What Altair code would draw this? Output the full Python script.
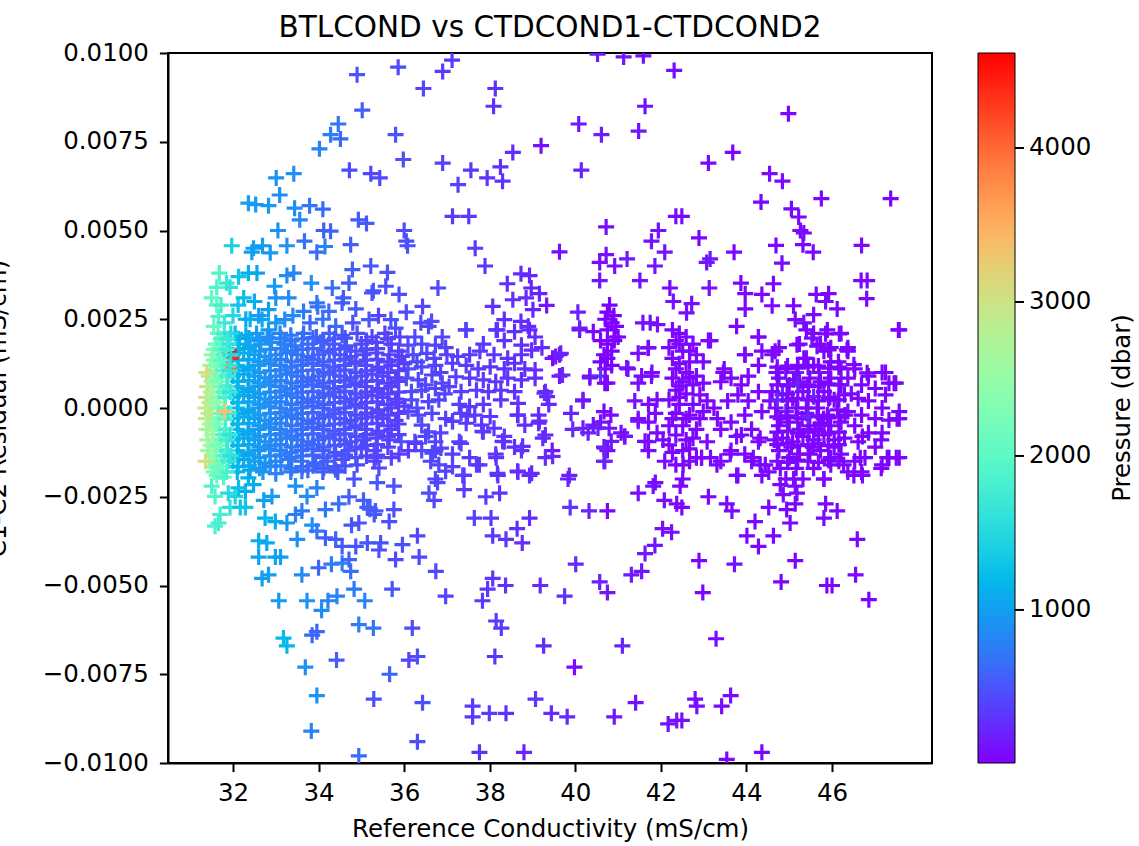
import altair as alt
import pandas as pd

# ---- data: [conductivity (mS/cm), C1-C2 residual (mS/cm), pressure (dbar)] ----
upper_outliers = [
    [34.90,0.00939,520],[35.86,0.00960,450],[36.45,0.00900,400],[35.02,0.00839,560],[34.46,0.00800,700],
    [34.28,0.00770,760],[34.51,0.00758,620],[34.02,0.00730,800],[35.80,0.00770,480],[35.98,0.00700,470],
    [34.72,0.00670,450],[35.22,0.00660,420],[35.43,0.00648,430],[33.01,0.00648,900],[33.42,0.00660,880],
    [33.09,0.00600,880],[32.36,0.00577,1000],[32.53,0.00573,950],[32.83,0.00570,950],[33.44,0.00563,880],
    [33.79,0.00570,700],[34.10,0.00560,640],[33.56,0.00530,820],[34.93,0.00530,560],[35.12,0.00520,520],
    [36.00,0.00500,450],[36.08,0.00457,500],[36.05,0.00470,450],[33.05,0.00500,900],[34.12,0.00500,560],
    [34.28,0.00498,600],[31.97,0.00457,1400],[32.48,0.00450,1000],[32.69,0.00457,980],[32.87,0.00437,950],
    [32.44,0.00439,1000],[33.26,0.00457,900],[33.67,0.00470,680],[33.96,0.00439,650],[34.15,0.00455,800],
    [34.75,0.00460,550],[34.79,0.00390,560],[35.22,0.00400,500],[35.61,0.00382,480],[31.68,0.00380,1900],
    [31.85,0.00352,1700],[31.50,0.00310,2000],[32.13,0.00370,1300],[32.36,0.00380,1150],[32.56,0.00380,1050],
    [32.50,0.00300,1100],[32.97,0.00343,950],[33.26,0.00373,850],[33.42,0.00380,820],[33.00,0.00310,900],
    [33.30,0.00310,850],[33.83,0.00352,900],[34.32,0.00338,650],[34.71,0.00352,560],[35.25,0.00324,500],
    [35.57,0.00343,470],[35.88,0.00320,450],[32.83,0.00277,1000],[31.66,0.00258,1900],[33.96,0.00296,700],
    [34.24,0.00272,650],[34.55,0.00296,560],[34.87,0.00279,530],[33.65,0.00272,750],[33.21,0.00249,850],
    [32.68,0.00249,1050],[32.83,0.00220,1000],[34.40,0.00230,620],[35.18,0.00249,500],[35.69,0.00249,480],
    [35.80,0.00225,470],[36.43,0.00286,420],[36.39,0.00240,420],[35.28,0.00330,500],[34.58,0.00310,560],
    [33.98,0.00285,700],[36.05,0.00270,430],[31.93,0.00340,1600],[31.62,0.00340,1900],[31.62,0.00290,2000],
    [31.72,0.00290,1800],[32.12,0.00290,1300],[32.40,0.00250,1150],[32.25,0.00310,1250],[32.00,0.00260,1500],
    [31.80,0.00240,1700],[31.55,0.00230,2100],[33.00,0.00240,950],[33.40,0.00260,850],[34.10,0.00250,690],
    [37.12,0.00980,330],[36.90,0.00948,350],[38.13,0.00900,300],[38.09,0.00850,300],[41.13,0.00989,120],
    [41.59,0.00992,110],[40.52,0.00997,150],[42.31,0.00951,70],[41.63,0.00850,110],[40.08,0.00800,150],
    [40.61,0.00770,170],[41.48,0.00780,120],[39.20,0.00739,80],[38.54,0.00720,250],[36.90,0.00690,380],
    [37.56,0.00670,330],[37.94,0.00648,300],[38.25,0.00679,280],[38.30,0.00639,300],[37.26,0.00629,380],
    [40.14,0.00670,200],[37.13,0.00540,350],[37.51,0.00540,330],[40.72,0.00510,80],[41.94,0.00500,90],
    [41.78,0.00470,100],[42.09,0.00439,100],[42.35,0.00540,80],[37.66,0.00450,350],[39.63,0.00440,60],
    [40.72,0.00432,80],[40.57,0.00410,60],[40.92,0.00400,80],[41.21,0.00420,150],[41.86,0.00400,120],
    [37.89,0.00400,330],[36.79,0.00338,420],[38.73,0.00378,250],[38.93,0.00373,230],[38.41,0.00350,260],
    [38.97,0.00338,220],[39.16,0.00322,200],[40.57,0.00359,120],[41.51,0.00359,120],[42.21,0.00338,60],
    [38.54,0.00305,260],[38.07,0.00286,300],[38.85,0.00310,240],[39.33,0.00289,120],[39.01,0.00277,200],
    [38.34,0.00249,280],[38.73,0.00244,250],[38.93,0.00220,230],[40.06,0.00270,200],[36.64,0.00244,450],
    [37.44,0.00220,380],[38.15,0.00220,300],[41.58,0.00240,100],[41.75,0.00240,90],[41.92,0.00235,80],
    [42.29,0.00300,80],[40.10,0.00225,160],
    [40.80,0.00290,20],[40.75,0.00270,20],[40.90,0.00260,20],[40.70,0.00250,20],[40.85,0.00240,20],
    [40.95,0.00230,20],[41.00,0.00200,20],
    [44.98,0.00829,40],[43.68,0.00720,30],[43.11,0.00690,60],[44.54,0.00660,50],[44.84,0.00639,50],
    [44.34,0.00580,40],[45.75,0.00590,30],[47.37,0.00590,30],[42.49,0.00540,60],[45.05,0.00561,60],
    [45.22,0.00538,50],[45.34,0.00493,50],[45.26,0.00500,40],[42.89,0.00479,40],[44.69,0.00458,40],
    [45.32,0.00460,40],[45.56,0.00439,50],[46.69,0.00458,40],[43.71,0.00439,40],[43.15,0.00420,150],
    [43.07,0.00410,120],[44.83,0.00408,50],[46.68,0.00359,40],[46.82,0.00359,40],[46.81,0.00308,40],
    [43.13,0.00338,100],[43.87,0.00352,40],[43.97,0.00322,40],[44.63,0.00350,40],[44.36,0.00320,40],
    [45.63,0.00320,40],[45.92,0.00322,40],[44.60,0.00288,40],[43.97,0.00279,40],[45.10,0.00288,40],
    [45.85,0.00300,60],[46.12,0.00279,40],[42.72,0.00294,80],[42.60,0.00268,80],[43.77,0.00230,40],
    [44.28,0.00200,40],[45.14,0.00249,60],[45.34,0.00240,70],[45.57,0.00263,50],[45.85,0.00209,40],
    [46.17,0.00209,40],[45.53,0.00197,80],[47.55,0.00220,30],
]

lower_outliers = [
    [31.50,-0.00220,1900],[31.58,-0.00249,1900],[31.70,-0.00300,1800],[31.58,-0.00333,1850],[31.66,-0.00324,1800],
    [31.93,-0.00280,1600],[32.05,-0.00249,1450],[32.29,-0.00280,1300],[32.75,-0.00310,1150],[32.99,-0.00320,1100],
    [32.60,-0.00374,1100],[32.79,-0.00380,1100],[32.60,-0.00420,1050],[32.99,-0.00420,1050],[33.11,-0.00420,1000],
    [32.68,-0.00480,1000],[32.83,-0.00470,1000],[33.07,-0.00543,950],[33.18,-0.00648,1200],[33.26,-0.00670,1200],
    [33.69,-0.00730,900],[33.96,-0.00810,900],[33.83,-0.00910,800],[34.94,-0.00980,650],[33.73,-0.00543,900],
    [34.07,-0.00570,850],[34.22,-0.00543,800],[34.43,-0.00530,800],[33.85,-0.00640,600],[33.96,-0.00630,600],
    [34.42,-0.00710,550],[34.94,-0.00610,750],[35.28,-0.00620,700],[34.83,-0.00510,750],[35.08,-0.00543,800],
    [35.72,-0.00510,500],[36.19,-0.00620,450],[36.11,-0.00710,400],[36.31,-0.00700,450],[35.66,-0.00750,600],
    [35.29,-0.00820,500],[36.43,-0.00830,450],[36.31,-0.00940,450],[33.61,-0.00470,850],[34.00,-0.00450,600],
    [34.30,-0.00440,750],[34.55,-0.00437,800],[34.75,-0.00460,650],[34.71,-0.00427,600],[33.50,-0.00370,900],
    [33.26,-0.00324,950],[33.46,-0.00300,750],[33.61,-0.00290,750],[33.85,-0.00330,900],[33.96,-0.00347,700],
    [34.16,-0.00366,550],[34.40,-0.00370,550],[34.55,-0.00390,550],[34.87,-0.00390,500],[35.14,-0.00380,500],
    [35.45,-0.00380,500],[35.41,-0.00400,480],[35.96,-0.00385,450],[35.80,-0.00427,450],[36.35,-0.00420,420],
    [36.31,-0.00360,420],[35.14,-0.00280,600],[35.33,-0.00290,550],[35.76,-0.00286,480],[35.65,-0.00320,470],
    [34.94,-0.00324,500],[34.77,-0.00330,500],[34.16,-0.00286,700],[34.47,-0.00270,650],[34.71,-0.00250,550],
    [34.83,-0.00200,480],[35.37,-0.00210,520],[35.76,-0.00220,500],[33.73,-0.00249,850],[33.96,-0.00225,800],
    [33.46,-0.00220,900],[32.91,-0.00249,950],[32.72,-0.00260,1000],[32.48,-0.00216,1100],[32.36,-0.00197,1150],
    [32.29,-0.00235,1150],[32.13,-0.00225,1250],[31.89,-0.00240,1500],[32.17,-0.00280,1300],[35.05,-0.00260,550],
    [35.20,-0.00285,550],[35.30,-0.00300,520],
    [36.74,-0.00460,420],[36.97,-0.00530,400],[37.64,-0.00310,380],[38.03,-0.00310,330],[38.93,-0.00310,250],
    [38.07,-0.00360,330],[38.38,-0.00370,300],[38.64,-0.00340,280],[38.76,-0.00380,260],[38.07,-0.00480,330],
    [37.95,-0.00510,330],[38.37,-0.00500,280],[37.83,-0.00543,330],[38.15,-0.00600,350],[38.27,-0.00620,330],
    [38.12,-0.00700,300],[39.18,-0.00500,250],[39.75,-0.00530,300],[40.01,-0.00440,250],[40.57,-0.00490,200],
    [40.75,-0.00520,150],[41.31,-0.00470,150],[41.55,-0.00460,120],[41.63,-0.00410,150],[41.86,-0.00387,120],
    [42.04,-0.00340,90],[42.25,-0.00350,80],[39.26,-0.00670,250],[39.98,-0.00730,40],[41.10,-0.00670,200],
    [39.07,-0.00820,300],[37.60,-0.00840,350],[37.60,-0.00870,350],[37.99,-0.00860,350],[38.38,-0.00860,280],
    [39.44,-0.00860,250],[39.81,-0.00870,250],[40.91,-0.00870,150],[41.41,-0.00830,100],[42.17,-0.00890,120],
    [42.37,-0.00880,150],[37.76,-0.00970,280],[38.80,-0.00970,200],[39.88,-0.00280,300],[40.32,-0.00290,200],
    [40.75,-0.00290,30],[41.47,-0.00240,80],[41.82,-0.00220,90],[42.08,-0.00260,60],[42.37,-0.00270,40],
    [39.83,-0.00200,200],[38.23,-0.00240,300],[37.91,-0.00250,350],[37.40,-0.00230,380],[36.78,-0.00210,420],
    [36.70,-0.00260,400],[36.58,-0.00240,450],
    [43.11,-0.00250,40],[43.54,-0.00270,50],[43.66,-0.00290,50],[44.20,-0.00320,50],[44.01,-0.00360,40],
    [44.28,-0.00390,40],[44.63,-0.00360,40],[44.52,-0.00280,40],[45.02,-0.00324,40],[44.94,-0.00286,40],
    [45.14,-0.00270,40],[45.85,-0.00270,40],[46.12,-0.00290,40],[45.81,-0.00310,50],[46.59,-0.00370,40],
    [45.14,-0.00430,30],[46.55,-0.00470,40],[45.88,-0.00500,30],[46.00,-0.00500,30],[46.86,-0.00540,20],
    [44.81,-0.00490,60],[42.89,-0.00430,40],[43.72,-0.00440,100],[42.98,-0.00520,20],[43.29,-0.00650,60],
    [42.80,-0.00820,80],[42.84,-0.00840,80],[43.42,-0.00840,60],[43.63,-0.00810,60],[42.49,-0.00880,80],
    [44.36,-0.00970,40],[43.54,-0.00990,40],[42.45,-0.00220,40],[42.49,-0.00280,30],[44.86,-0.00244,50],
    [45.18,-0.00240,50],
]

mid_band_west = [
    [37.45,0.00220,360],[38.18,0.00220,310],[38.58,0.00215,290],[38.90,0.00230,270],[36.57,0.00230,420],
    [38.34,0.00190,300],[39.06,0.00200,260],[36.89,0.00200,400],[36.41,0.00180,430],[36.09,0.00177,450],
    [36.73,0.00177,410],[36.97,0.00170,390],[37.85,0.00180,330],[38.74,0.00177,280],[39.22,0.00170,250],
    [36.21,0.00150,440],[36.53,0.00154,420],[37.25,0.00145,370],[37.53,0.00150,350],[37.77,0.00160,340],
    [38.10,0.00150,320],[38.42,0.00140,300],[38.74,0.00150,280],[38.98,0.00163,260],[39.54,0.00145,150],
    [39.66,0.00154,200],[36.09,0.00110,450],[36.41,0.00116,430],[36.73,0.00120,410],[37.13,0.00126,380],
    [37.45,0.00120,360],[37.73,0.00110,340],[38.01,0.00116,320],[38.34,0.00110,300],[38.58,0.00126,290],
    [38.82,0.00110,270],[39.06,0.00107,260],[36.05,0.00084,450],[36.33,0.00079,430],[36.65,0.00093,420],
    [36.89,0.00070,400],[37.21,0.00088,370],[37.53,0.00084,350],[37.85,0.00079,330],[38.14,0.00074,310],
    [38.42,0.00084,300],[38.74,0.00079,280],[39.06,0.00084,260],[39.70,0.00093,220],[36.17,0.00046,450],
    [36.41,0.00050,430],[36.73,0.00055,410],[37.05,0.00060,390],[37.33,0.00046,370],[37.69,0.00050,340],
    [37.97,0.00046,330],[38.26,0.00050,310],[38.58,0.00046,290],[39.30,0.00046,250],[36.17,0.00023,450],
    [36.57,0.00018,420],[36.81,0.00023,400],[37.29,0.00010,370],[37.53,0.00004,350],[37.85,0.00010,330],
    [38.26,0.00023,310],[38.66,0.00013,280],[39.34,0.00032,250],[39.38,0.00010,250],[36.09,-0.00010,450],
    [36.33,-0.00020,430],[36.65,-0.00015,420],[36.97,-0.00030,390],[37.33,-0.00015,370],[37.65,-0.00020,340],
    [38.01,-0.00024,320],[38.66,-0.00020,280],[39.14,-0.00020,250],[36.41,-0.00048,430],[37.13,-0.00038,380],
    [37.45,-0.00043,360],[37.81,-0.00048,340],[38.10,-0.00057,320],[38.82,-0.00048,270],[39.14,-0.00043,250],
    [36.57,-0.00067,420],[37.85,-0.00067,330],[38.34,-0.00080,300],[39.30,-0.00076,250],[35.93,-0.00095,460],
    [36.25,-0.00095,440],[36.73,-0.00095,410],[37.29,-0.00095,370],[38.34,-0.00095,300],[38.58,-0.00110,290],
    [36.41,-0.00120,430],[36.73,-0.00120,410],[37.13,-0.00130,380],[37.53,-0.00140,350],[38.14,-0.00130,310],
    [38.74,-0.00120,280],[39.46,-0.00120,100],[36.81,-0.00160,400],[37.13,-0.00165,380],[37.69,-0.00160,340],
    [38.18,-0.00184,310],[38.66,-0.00180,280],[38.98,-0.00184,260],[36.73,-0.00200,410],[37.37,-0.00190,370],
    [39.30,-0.00140,250],[39.86,-0.00190,200],[38.93,-0.00190,250],[38.65,-0.00178,260],[38.19,-0.00190,300],
    [37.40,-0.00190,380],[36.97,-0.00178,400],[37.76,-0.00160,340],[38.15,-0.00140,310],[37.33,-0.00100,370],
    [36.86,-0.00113,400],[38.30,-0.00094,300],[38.77,-0.00108,280],[39.47,-0.00136,240],[39.24,-0.00085,250],
    [39.16,-0.00037,250],[38.65,-0.00020,280],[37.83,-0.00066,330],[37.13,-0.00037,380],[37.48,-0.00023,360],
    [36.62,-0.00150,420],[36.66,-0.00127,420],
    [36.25,0.00200,440],[36.70,0.00140,410],[36.30,0.00130,435],[36.85,0.00100,400],[36.50,0.00065,425],
    [36.95,0.00040,395],[36.30,0.00000,435],[36.85,-0.00070,400],[36.50,-0.00080,425],[37.00,0.00150,390],
]

mid_band_central = [
    [40.10,0.00220,80],[40.42,0.00215,30],[40.75,0.00220,20],[40.91,0.00200,20],[40.59,0.00190,20],
    [40.75,0.00180,20],[40.91,0.00190,20],[40.67,0.00150,20],[40.59,0.00130,20],[40.75,0.00140,20],
    [40.85,0.00160,20],[40.70,0.00110,20],[40.85,0.00120,20],[41.23,0.00110,100],[40.34,0.00090,80],
    [40.59,0.00090,300],[40.75,0.00070,40],[41.47,0.00154,80],[41.71,0.00170,60],[41.55,0.00090,80],
    [41.47,0.00070,80],[41.79,0.00100,60],[41.39,0.00020,80],[41.71,0.00010,60],[41.91,0.00023,50],
    [41.87,-0.00015,50],[40.18,0.00020,120],[40.67,-0.00010,40],[40.83,-0.00020,40],[39.90,-0.00015,200],
    [40.18,-0.00057,150],[40.42,-0.00048,120],[40.59,-0.00040,100],[40.79,-0.00057,100],[41.07,-0.00070,80],
    [41.15,-0.00080,80],[41.47,-0.00030,80],[41.71,-0.00040,60],[41.71,-0.00095,60],[40.67,-0.00110,100],
    [40.75,-0.00120,80],[40.67,-0.00150,80],[41.71,-0.00120,60],[41.91,-0.00070,50],[39.94,-0.00060,250],
    [40.30,-0.00070,200],[40.53,-0.00056,180],[40.69,-0.00113,200],[40.84,-0.00094,150],[41.16,-0.00080,100],
    [41.47,-0.00037,80],[41.63,-0.00094,80],[42.09,-0.00150,60],[42.05,-0.00090,60],[40.69,-0.00150,220],
    [39.63,0.00150,60],[39.47,0.00140,60],[41.20,0.00113,100],[41.70,0.00169,80],[40.34,0.00085,120],
    [40.69,0.00070,40],[39.63,0.00090,150],[41.78,0.00090,60],[39.28,0.00042,250],[40.18,0.00023,150],
]

east_cluster = [
    [42.27,0.00220,40],[42.43,0.00210,40],[42.35,0.00190,30],[42.59,0.00200,40],[42.75,0.00180,40],
    [42.19,0.00170,40],[42.51,0.00160,30],[42.83,0.00150,40],[42.27,0.00140,30],[42.67,0.00130,40],
    [42.99,0.00130,40],[42.35,0.00110,30],[42.59,0.00100,40],[42.83,0.00090,40],[42.27,0.00084,30],
    [42.51,0.00074,40],[42.75,0.00065,40],[42.99,0.00070,40],[42.35,0.00050,30],[42.59,0.00040,40],
    [42.91,0.00037,40],[42.19,0.00023,30],[42.43,0.00010,40],[42.75,0.00010,50],[43.08,0.00020,40],
    [42.35,-0.00015,30],[42.67,-0.00020,40],[42.99,-0.00010,40],[43.24,0.00000,40],[42.19,-0.00050,30],
    [42.51,-0.00050,40],[42.83,-0.00060,40],[42.35,-0.00076,30],[42.75,-0.00085,40],[43.08,-0.00095,40],
    [42.19,-0.00104,30],[42.51,-0.00120,40],[42.83,-0.00140,40],[43.16,-0.00140,40],[42.35,-0.00160,30],
    [42.67,-0.00150,40],[42.51,-0.00200,40],[41.87,-0.00210,50],[42.52,-0.00160,40],[42.95,-0.00140,40],
    [43.16,0.00190,40],[43.48,0.00110,40],[43.40,0.00074,40],[43.64,0.00084,40],[43.88,0.00065,40],
    [44.04,0.00090,40],[44.28,0.00120,40],[43.96,0.00150,40],[44.36,0.00160,40],[44.28,0.00200,40],
    [43.80,0.00037,40],[44.04,0.00020,40],[43.56,0.00020,40],[44.28,0.00046,40],[44.36,-0.00010,40],
    [43.96,-0.00020,40],[43.64,-0.00040,40],[43.40,-0.00060,40],[43.32,-0.00030,40],[43.88,-0.00076,40],
    [44.28,-0.00095,40],[44.12,-0.00060,40],[43.64,-0.00120,40],[43.96,-0.00130,40],[44.12,-0.00150,40],
    [43.80,-0.00190,40],[43.40,-0.00150,40],[44.44,-0.00160,40],[44.36,-0.00190,40],[43.31,-0.00160,60],
    [43.62,-0.00130,60],[43.77,-0.00080,50],[44.32,-0.00085,50],[44.16,-0.00140,40],[44.32,-0.00160,40],
    [44.60,0.00150,40],[44.76,0.00170,40],[44.92,0.00110,40],[45.16,0.00100,200],[45.40,0.00140,40],
    [45.57,0.00120,40],[45.81,0.00160,40],[45.97,0.00130,40],[46.21,0.00110,40],[46.37,0.00160,40],
    [44.76,0.00084,40],[45.00,0.00065,150],[45.24,0.00074,40],[45.48,0.00084,40],[45.73,0.00074,40],
    [45.97,0.00084,40],[46.21,0.00065,40],[46.37,0.00084,40],[44.60,0.00046,40],[44.84,0.00037,250],
    [45.08,0.00027,40],[45.32,0.00046,40],[45.57,0.00032,200],[45.81,0.00046,40],[46.05,0.00023,40],
    [46.29,0.00037,40],[44.68,0.00000,40],[44.92,-0.00010,200],[45.16,0.00000,40],[45.40,-0.00015,40],
    [45.65,0.00000,40],[45.89,-0.00020,40],[46.13,-0.00005,40],[46.37,-0.00010,40],[44.76,-0.00050,40],
    [45.00,-0.00040,40],[45.24,-0.00060,150],[45.48,-0.00050,40],[45.73,-0.00043,40],[45.97,-0.00050,40],
    [46.21,-0.00040,40],[44.84,-0.00085,40],[45.08,-0.00095,40],[45.32,-0.00080,40],[45.57,-0.00090,40],
    [45.81,-0.00076,40],[46.05,-0.00090,40],[46.29,-0.00085,40],[44.76,-0.00120,40],[45.00,-0.00140,40],
    [45.24,-0.00130,40],[45.48,-0.00130,40],[45.73,-0.00120,40],[45.97,-0.00140,40],[46.21,-0.00130,40],
    [45.16,-0.00170,40],[45.57,-0.00170,40],[45.97,-0.00160,40],[44.92,-0.00200,40],[45.32,-0.00200,40],
    [45.81,-0.00200,40],[46.37,-0.00180,40],[46.53,-0.00150,40],[46.69,-0.00180,40],[45.40,0.00220,40],
    [45.57,0.00210,40],[45.89,0.00220,40],[46.21,0.00210,40],[45.24,0.00180,40],[45.73,0.00180,40],
    [45.97,0.00170,40],[46.37,0.00170,40],[47.57,0.00220,30],[46.53,0.00110,30],[46.85,0.00090,30],
    [47.17,0.00100,30],[47.33,0.00070,30],[47.49,0.00070,30],[46.69,0.00065,30],[47.01,0.00055,30],
    [47.25,0.00037,30],[46.61,0.00027,30],[46.85,0.00020,30],[47.17,0.00000,30],[47.57,-0.00010,30],
    [46.69,-0.00020,30],[47.01,-0.00030,30],[47.33,-0.00034,30],[47.57,-0.00030,30],[46.53,-0.00050,30],
    [46.85,-0.00070,30],[47.17,-0.00070,30],[46.61,-0.00095,30],[47.01,-0.00110,30],[46.77,-0.00140,30],
    [47.33,-0.00140,30],[47.57,-0.00140,30],[47.17,-0.00160,30],[44.70,0.00100,40],[44.95,0.00040,40],
    [45.20,0.00120,40],[45.45,0.00060,40],[45.70,0.00100,40],[45.95,0.00030,40],[46.15,0.00130,40],
    [44.80,-0.00030,40],[45.05,-0.00110,40],[45.30,-0.00030,40],[45.55,-0.00110,40],[45.80,-0.00030,40],
    [46.05,-0.00110,40],[46.30,-0.00020,40],[44.65,-0.00090,40],[45.40,0.00000,40],[45.60,-0.00060,40],
    [45.10,0.00080,40],[44.55,0.00020,40],[46.45,0.00040,40],[45.81,-0.00200,40],[46.51,-0.00190,40],
    [46.71,-0.00190,40],[47.15,-0.00170,30],[47.50,-0.00140,30],[47.29,-0.00140,30],[43.77,-0.00190,70],
    [44.52,-0.00180,50],[44.79,-0.00170,50],[45.10,-0.00200,60],[44.79,-0.00216,50],[45.14,-0.00220,50],
    [46.27,-0.00160,40],[46.66,-0.00140,40],[42.95,-0.00140,40],[46.71,-0.00080,30],[47.15,-0.00090,30],
    [47.52,-0.00030,30],[43.46,0.00100,40],[43.11,0.00190,60],[43.97,0.00150,40],[44.67,0.00160,40],
    [45.34,0.00140,40],[45.92,0.00164,40],[46.51,0.00122,40],[46.82,0.00099,40],[47.25,0.00100,30],
    [47.45,0.00070,30],[45.18,0.00178,40],[45.65,0.00174,40],[46.35,0.00164,40],
]

east_cluster_dense = [
    [44.72,0.00115,40],[44.96,0.00118,40],[45.20,0.00112,40],[45.44,0.00115,40],[45.68,0.00118,40],[45.92,0.00112,40],[46.16,0.00115,40],
    [44.72,0.00065,40],[44.96,0.00062,40],[45.20,0.00068,180],[45.44,0.00065,40],[45.68,0.00062,40],[45.92,0.00068,40],[46.16,0.00065,40],
    [44.72,0.00023,200],[44.96,0.00020,40],[45.20,0.00026,40],[45.44,0.00023,40],[45.68,0.00020,40],[45.92,0.00026,40],[46.16,0.00023,40],
    [44.72,-0.00025,40],[44.96,-0.00022,40],[45.20,-0.00028,40],[45.44,-0.00025,220],[45.68,-0.00022,40],[45.92,-0.00028,40],[46.16,-0.00025,40],
    [44.72,-0.00068,40],[44.96,-0.00065,40],[45.20,-0.00071,40],[45.44,-0.00068,40],[45.68,-0.00065,40],[45.92,-0.00071,40],[46.16,-0.00068,40],
    [44.72,-0.00103,40],[44.96,-0.00100,40],[45.20,-0.00106,40],[45.44,-0.00103,40],[45.68,-0.00100,40],[45.92,-0.00106,40],[46.16,-0.00103,40],
    [44.72,-0.00150,40],[44.96,-0.00153,40],[45.20,-0.00147,40],[45.44,-0.00150,40],[45.68,-0.00153,40],[45.92,-0.00147,40],[46.16,-0.00150,40],
    [42.43,0.00180,40],[42.43,0.00125,40],[42.67,0.00160,40],[42.43,0.00062,40],[42.67,0.00085,40],[42.43,0.00030,40],
    [42.59,-0.00030,40],[42.27,-0.00030,30],[42.59,-0.00090,40],[42.27,-0.00125,30],[42.67,-0.00115,40],[42.91,-0.00030,40],
]

blue_core = [
    [32.05,0.00210,1230],[32.30,0.00205,1080],[32.55,0.00210,980],[32.80,0.00200,880],[33.10,0.00210,790],
    [33.35,0.00205,730],[33.65,0.00210,650],[33.95,0.00200,590],[34.25,0.00210,540],[34.55,0.00205,495],
    [34.90,0.00210,455],[35.25,0.00200,420],[35.55,0.00210,395],[35.90,0.00200,370],
    [32.15,0.00180,1170],[32.40,0.00175,1040],[32.65,0.00180,940],[32.90,0.00185,840],[33.20,0.00180,770],
    [33.45,0.00175,700],[33.75,0.00180,630],[34.05,0.00185,570],[34.35,0.00180,525],[34.65,0.00175,485],
    [35.00,0.00180,440],[35.35,0.00185,410],[35.70,0.00180,385],
    [32.00,0.00150,1250],[32.25,0.00155,1100],[32.50,0.00150,1000],[32.75,0.00145,900],[33.00,0.00150,820],
    [33.25,0.00155,750],[33.50,0.00150,690],[33.75,0.00145,630],[34.00,0.00150,580],[34.25,0.00155,540],
    [34.50,0.00150,500],[34.75,0.00145,470],[35.05,0.00150,435],[35.35,0.00155,410],[35.65,0.00150,390],
    [35.95,0.00145,365],
    [32.10,0.00120,1200],[32.35,0.00115,1060],[32.60,0.00120,960],[32.85,0.00125,860],[33.10,0.00120,790],
    [33.35,0.00115,730],[33.60,0.00120,665],[33.85,0.00125,610],[34.10,0.00120,565],[34.35,0.00115,525],
    [34.60,0.00120,490],[34.85,0.00125,460],[35.10,0.00120,430],[35.40,0.00115,405],[35.70,0.00120,385],
    [36.00,0.00125,360],
    [32.00,0.00090,1250],[32.25,0.00095,1100],[32.50,0.00090,1000],[32.75,0.00085,900],[33.00,0.00090,820],
    [33.25,0.00095,750],[33.50,0.00090,690],[33.75,0.00085,630],[34.00,0.00090,580],[34.25,0.00095,540],
    [34.50,0.00090,500],[34.75,0.00085,470],[35.00,0.00090,440],[35.25,0.00095,420],[35.50,0.00090,400],
    [35.80,0.00085,378],
    [32.10,0.00060,1200],[32.35,0.00055,1060],[32.60,0.00060,960],[32.85,0.00065,860],[33.10,0.00060,790],
    [33.35,0.00055,730],[33.60,0.00060,665],[33.85,0.00065,610],[34.10,0.00060,565],[34.35,0.00055,525],
    [34.60,0.00060,490],[34.85,0.00065,460],[35.10,0.00060,430],[35.40,0.00055,405],[35.70,0.00060,385],
    [32.00,0.00030,1250],[32.25,0.00035,1100],[32.50,0.00030,1000],[32.75,0.00025,900],[33.00,0.00030,820],
    [33.25,0.00035,750],[33.50,0.00030,690],[33.75,0.00025,630],[34.00,0.00030,580],[34.25,0.00035,540],
    [34.50,0.00030,500],[34.75,0.00025,470],[35.00,0.00030,440],[35.25,0.00035,420],[35.50,0.00030,400],
    [35.80,0.00025,378],
    [32.10,0.00000,1200],[32.35,-0.00005,1060],[32.60,0.00000,960],[32.85,0.00005,860],[33.10,0.00000,790],
    [33.35,-0.00005,730],[33.60,0.00000,665],[33.85,0.00005,610],[34.10,0.00000,565],[34.35,-0.00005,525],
    [34.60,0.00000,490],[34.85,0.00005,460],[35.10,0.00000,430],[35.40,-0.00005,405],[35.70,0.00000,385],
    [36.00,0.00005,360],
    [32.00,-0.00030,1250],[32.25,-0.00025,1100],[32.50,-0.00030,1000],[32.75,-0.00035,900],[33.00,-0.00030,820],
    [33.25,-0.00025,750],[33.50,-0.00030,690],[33.75,-0.00035,630],[34.00,-0.00030,580],[34.25,-0.00025,540],
    [34.50,-0.00030,500],[34.75,-0.00035,470],[35.00,-0.00030,440],[35.25,-0.00025,420],[35.50,-0.00030,400],
    [35.80,-0.00035,378],
    [32.10,-0.00060,1200],[32.35,-0.00065,1060],[32.60,-0.00060,960],[32.85,-0.00055,860],[33.10,-0.00060,790],
    [33.35,-0.00065,730],[33.60,-0.00060,665],[33.85,-0.00055,610],[34.10,-0.00060,565],[34.35,-0.00065,525],
    [34.60,-0.00060,490],[34.85,-0.00055,460],[35.10,-0.00060,430],[35.40,-0.00065,405],[35.70,-0.00060,385],
    [32.00,-0.00090,1250],[32.25,-0.00085,1100],[32.50,-0.00090,1000],[32.75,-0.00095,900],[33.00,-0.00090,820],
    [33.25,-0.00085,750],[33.50,-0.00090,690],[33.75,-0.00095,630],[34.00,-0.00090,580],[34.25,-0.00085,540],
    [34.50,-0.00090,500],[34.75,-0.00095,470],[35.05,-0.00090,435],[35.35,-0.00085,410],[35.65,-0.00090,390],
    [32.10,-0.00120,1200],[32.35,-0.00125,1060],[32.60,-0.00120,960],[32.85,-0.00115,860],[33.10,-0.00120,790],
    [33.35,-0.00125,730],[33.60,-0.00120,665],[33.85,-0.00115,610],[34.10,-0.00120,565],[34.40,-0.00125,520],
    [34.70,-0.00120,475],[35.00,-0.00115,440],[35.30,-0.00120,415],
    [32.00,-0.00150,1250],[32.25,-0.00145,1100],[32.50,-0.00150,1000],[32.75,-0.00155,900],[33.00,-0.00150,820],
    [33.30,-0.00145,740],[33.60,-0.00150,665],[33.90,-0.00155,600],[34.20,-0.00150,550],[34.55,-0.00145,495],
    [34.90,-0.00160,455],[35.30,-0.00150,415],[35.70,-0.00140,385],[36.10,-0.00120,355],[34.45,-0.00180,515],
    [32.10,-0.00180,1200],[32.40,-0.00175,1040],[32.70,-0.00180,920],[33.00,-0.00185,820],[33.35,-0.00180,730],
    [33.75,-0.00175,630],[34.10,-0.00180,565],[33.61,-0.00178,665],[33.93,-0.00155,600],[34.40,-0.00174,520],
    [35.33,-0.00140,415],[35.41,-0.00169,405],[35.88,-0.00130,372],[36.27,-0.00100,350],
    [32.30,0.00250,1080],[32.60,0.00260,960],[33.80,0.00240,620],[34.80,0.00240,460],[35.40,0.00260,405],
]

blue_core_dense = [
    [32.12,0.00195,1190],[32.37,0.00197,1050],[32.62,0.00190,950],[32.87,0.00195,855],[33.12,0.00197,785],
    [33.37,0.00190,725],[33.62,0.00195,660],[33.87,0.00197,605],[34.12,0.00190,560],[34.37,0.00195,522],
    [34.62,0.00197,488],[35.12,0.00190,428],[35.62,0.00195,390],
    [32.12,0.00165,1190],[32.37,0.00167,1050],[32.62,0.00160,950],[32.87,0.00165,855],[33.12,0.00167,785],
    [33.37,0.00160,725],[33.62,0.00165,660],[33.87,0.00167,605],[34.12,0.00160,560],[34.37,0.00165,522],
    [34.62,0.00167,488],[34.87,0.00160,458],[35.12,0.00165,428],[35.37,0.00167,407],[35.87,0.00160,372],
    [32.12,0.00135,1190],[32.37,0.00137,1050],[32.62,0.00130,950],[32.87,0.00135,855],[33.12,0.00137,785],
    [33.37,0.00130,725],[33.62,0.00135,660],[33.87,0.00137,605],[34.12,0.00130,560],[34.37,0.00135,522],
    [34.62,0.00137,488],[34.87,0.00130,458],[35.12,0.00135,428],[35.37,0.00137,407],[35.62,0.00130,390],
    [35.87,0.00135,372],
    [32.12,0.00105,1190],[32.37,0.00107,1050],[32.62,0.00100,950],[32.87,0.00105,855],[33.12,0.00107,785],
    [33.37,0.00100,725],[33.62,0.00105,660],[33.87,0.00107,605],[34.12,0.00100,560],[34.37,0.00105,522],
    [34.62,0.00107,488],[34.87,0.00100,458],[35.12,0.00105,428],[35.37,0.00107,407],[35.62,0.00100,390],
    [35.87,0.00105,372],
    [32.12,0.00075,1190],[32.37,0.00077,1050],[32.62,0.00070,950],[32.87,0.00075,855],[33.12,0.00077,785],
    [33.37,0.00070,725],[33.62,0.00075,660],[33.87,0.00077,605],[34.12,0.00070,560],[34.37,0.00075,522],
    [34.62,0.00077,488],[34.87,0.00070,458],[35.12,0.00075,428],[35.37,0.00077,407],[35.62,0.00070,390],
    [35.87,0.00075,372],
    [32.12,0.00045,1190],[32.37,0.00047,1050],[32.62,0.00040,950],[32.87,0.00045,855],[33.12,0.00047,785],
    [33.37,0.00040,725],[33.62,0.00045,660],[33.87,0.00047,605],[34.12,0.00040,560],[34.37,0.00045,522],
    [34.62,0.00047,488],[34.87,0.00040,458],[35.12,0.00045,428],[35.37,0.00047,407],[35.62,0.00040,390],
    [35.87,0.00045,372],
    [32.12,0.00015,1190],[32.37,0.00017,1050],[32.62,0.00010,950],[32.87,0.00015,855],[33.12,0.00017,785],
    [33.37,0.00010,725],[33.62,0.00015,660],[33.87,0.00017,605],[34.12,0.00010,560],[34.37,0.00015,522],
    [34.62,0.00017,488],[34.87,0.00010,458],[35.12,0.00015,428],[35.37,0.00017,407],[35.62,0.00010,390],
    [35.87,0.00015,372],
    [32.12,-0.00015,1190],[32.37,-0.00013,1050],[32.62,-0.00020,950],[32.87,-0.00015,855],[33.12,-0.00013,785],
    [33.37,-0.00020,725],[33.62,-0.00015,660],[33.87,-0.00013,605],[34.12,-0.00020,560],[34.37,-0.00015,522],
    [34.62,-0.00013,488],[34.87,-0.00020,458],[35.12,-0.00015,428],[35.37,-0.00013,407],[35.62,-0.00020,390],
    [35.87,-0.00015,372],
    [32.12,-0.00045,1190],[32.37,-0.00043,1050],[32.62,-0.00050,950],[32.87,-0.00045,855],[33.12,-0.00043,785],
    [33.37,-0.00050,725],[33.62,-0.00045,660],[33.87,-0.00043,605],[34.12,-0.00050,560],[34.37,-0.00045,522],
    [34.62,-0.00043,488],[34.87,-0.00050,458],[35.12,-0.00045,428],[35.37,-0.00043,407],[35.62,-0.00050,390],
    [35.87,-0.00045,372],
    [32.12,-0.00075,1190],[32.37,-0.00073,1050],[32.62,-0.00080,950],[32.87,-0.00075,855],[33.12,-0.00073,785],
    [33.37,-0.00080,725],[33.62,-0.00075,660],[33.87,-0.00073,605],[34.12,-0.00080,560],[34.37,-0.00075,522],
    [34.62,-0.00073,488],[34.87,-0.00080,458],[35.12,-0.00075,428],[35.37,-0.00073,407],[35.62,-0.00080,390],
    [35.87,-0.00075,372],
    [32.12,-0.00105,1190],[32.37,-0.00103,1050],[32.62,-0.00110,950],[32.87,-0.00105,855],[33.12,-0.00103,785],
    [33.37,-0.00110,725],[33.62,-0.00105,660],[33.87,-0.00103,605],[34.12,-0.00110,560],[34.37,-0.00105,522],
    [34.62,-0.00103,488],[34.87,-0.00110,458],[35.12,-0.00105,428],[35.37,-0.00103,407],[35.62,-0.00110,390],
    [32.12,-0.00135,1190],[32.37,-0.00133,1050],[32.62,-0.00140,950],[32.87,-0.00135,855],[33.12,-0.00133,785],
    [33.37,-0.00140,725],[33.62,-0.00135,660],[33.87,-0.00133,605],[34.12,-0.00140,560],[34.37,-0.00135,522],
    [34.62,-0.00133,488],[34.87,-0.00140,458],[35.12,-0.00135,428],[35.37,-0.00133,407],
    [32.12,-0.00165,1190],[32.37,-0.00163,1050],[32.62,-0.00170,950],[32.87,-0.00165,855],[33.12,-0.00163,785],
    [33.37,-0.00170,725],[33.62,-0.00165,660],[33.87,-0.00163,605],[34.12,-0.00170,560],[34.37,-0.00165,522],
    [34.62,-0.00163,488],
]

deep_specks = [
    [31.85,0.00150,4500],[31.95,0.00140,4400],[31.90,0.00160,4550],[31.90,0.00110,4000],[31.87,0.00090,3800],
]

deep_column = [
    [31.65,0.00210,2000],[31.80,0.00210,1750],[31.95,0.00210,1500],
    [31.60,0.00180,2100],[31.75,0.00180,1850],[31.90,0.00180,1600],
    [31.50,0.00150,2500],[31.65,0.00150,2100],[31.80,0.00150,1800],[31.95,0.00150,1500],
    [31.47,0.00120,2600],[31.62,0.00120,2200],[31.77,0.00120,1900],[31.92,0.00120,1600],
    [31.43,0.00090,2800],[31.58,0.00090,2300],[31.73,0.00090,2000],[31.88,0.00090,1700],
    [31.40,0.00060,3000],[31.55,0.00060,2500],[31.70,0.00060,2100],[31.85,0.00060,1750],
    [31.38,0.00030,3100],[31.52,0.00030,2600],[31.67,0.00030,2200],[31.82,0.00030,1800],
    [31.36,0.00000,3000],[31.50,0.00000,2700],[31.65,0.00000,2300],[31.80,0.00000,1900],
    [31.37,-0.00030,2900],[31.52,-0.00030,2600],[31.67,-0.00030,2200],[31.82,-0.00030,1850],
    [31.38,-0.00060,2800],[31.53,-0.00060,2500],[31.68,-0.00060,2100],[31.83,-0.00060,1800],
    [31.40,-0.00090,2700],[31.55,-0.00090,2400],[31.70,-0.00090,2100],[31.85,-0.00090,1750],
    [31.42,-0.00120,2600],[31.57,-0.00120,2300],[31.72,-0.00120,2000],[31.87,-0.00120,1700],
    [31.45,-0.00150,2500],[31.60,-0.00150,2200],[31.75,-0.00150,1950],[31.90,-0.00150,1650],
    [31.55,-0.00180,2200],[31.70,-0.00180,2000],[31.85,-0.00180,1800],
    [31.55,0.00135,2300],[31.70,0.00135,2000],[31.50,0.00075,2600],[31.65,0.00075,2200],
    [31.45,0.00015,2800],[31.60,0.00015,2400],[31.45,-0.00045,2700],[31.60,-0.00045,2300],
    [31.48,-0.00105,2600],[31.63,-0.00105,2200],[31.52,-0.00165,2300],[31.67,-0.00165,2100],
    [31.72,0.00195,1900],[31.87,0.00195,1700],[31.55,0.00165,2300],[31.70,0.00165,2000],[31.85,0.00165,1750],
    [31.62,0.00105,2200],[31.78,0.00105,1900],[31.93,0.00105,1650],[31.48,0.00045,2700],[31.78,0.00045,1900],
    [31.93,0.00045,1650],[31.43,-0.00015,2900],[31.74,-0.00015,2100],[31.90,-0.00015,1700],[31.52,-0.00075,2600],
    [31.78,-0.00075,1900],[31.93,-0.00075,1650],[31.55,-0.00135,2400],[31.80,-0.00135,1850],[31.95,-0.00135,1600],
    [31.62,-0.00190,2100],[31.78,-0.00195,1900],
    [31.38,0.00100,3050],[31.36,-0.00150,3050],[31.80,-0.00010,3300],
]

colorbar_ticks = [1000, 2000, 3000, 4000]

RAINBOW = ["#8000ff", "#6032fe", "#4062fa", "#208ef4", "#00b4ec", "#20d4e1", "#40ecd4", "#60fac5",
           "#80ffb4", "#9ffaa2", "#bfec8e", "#dfd478", "#ffb462", "#ff8e4a", "#ff6232", "#ff3219", "#ff0000"]
P_MIN, P_MAX = 6, 4617
P_STOPS = [P_MIN + i * (P_MAX - P_MIN) / (len(RAINBOW) - 1) for i in range(len(RAINBOW))]

rows = (east_cluster + east_cluster_dense + mid_band_central + mid_band_west + upper_outliers
        + lower_outliers + blue_core + blue_core_dense + deep_specks + deep_column)
df = pd.DataFrame(rows, columns=["cond", "resid", "pressure"])

FONT = "DejaVu Sans"
FS = 24.5

points = alt.Chart(df).mark_point(
    shape="M-1,0H1M0,-1V1", filled=False, size=256, strokeWidth=3.2, opacity=1, clip=True
).encode(
    x=alt.X("cond:Q", scale=alt.Scale(domain=[30.481, 48.336], nice=False, zero=False),
            axis=alt.Axis(values=[32, 34, 36, 38, 40, 42, 44, 46], format="d",
                          title="Reference Conductivity (mS/cm)", labelPadding=10,
                          titleY=73, titleBaseline="alphabetic")),
    y=alt.Y("resid:Q", scale=alt.Scale(domain=[-0.01, 0.01], nice=False, zero=False),
            axis=alt.Axis(values=[-0.01, -0.0075, -0.005, -0.0025, 0, 0.0025, 0.005, 0.0075, 0.01],
                          format=".4f", title="C1-C2 Residual (mS/cm)", labelPadding=11,
                          titleX=-163, titleY=355, titleAngle=270, titleAlign="center",
                          titleBaseline="alphabetic")),
    color=alt.Color("pressure:Q",
                    scale=alt.Scale(domain=P_STOPS, range=RAINBOW, interpolate="rgb"),
                    legend=alt.Legend(type="gradient", title=None, orient="none",
                                      legendX=810, legendY=0, direction="vertical",
                                      gradientLength=710, gradientThickness=37,
                                      gradientStrokeColor="black", gradientStrokeWidth=1,
                                      values=colorbar_ticks, format="d",
                                      labelFont=FONT, labelFontSize=FS, labelColor="black",
                                      labelOffset=14, labelOverlap=False, padding=0)),
)

# small tick marks on the right edge of the colour bar, placed with the pressure scale
cbar_tick_marks = alt.Chart(pd.DataFrame({"p": colorbar_ticks})).mark_rule(
    color="black", strokeWidth=2
).encode(
    y=alt.Y("p:Q", scale=alt.Scale(domain=[P_MIN, P_MAX], nice=False, zero=False), axis=None),
    x=alt.value(847), x2=alt.value(856),
)

colorbar_label = alt.Chart(alt.Data(values=[{}])).mark_text(
    text="Pressure (dbar)", angle=270, font=FONT, fontSize=FS, color="black",
    align="center", baseline="middle"
).encode(x=alt.value(955), y=alt.value(355))

chart = alt.layer(points, cbar_tick_marks, colorbar_label).resolve_scale(
    y="independent"
).properties(
    width=764, height=710,
    title=alt.TitleParams("BTLCOND vs CTDCOND1-CTDCOND2", font=FONT, fontSize=29.5,
                          fontWeight="normal", color="black", anchor="middle", frame="group",
                          offset=-3),
    autosize=alt.AutoSizeParams(type="none"),
    padding={"left": 168, "top": 53, "right": 207, "bottom": 83},
).configure_view(
    stroke="black", strokeWidth=2
).configure_axis(
    domainColor="black", domainWidth=2, tickColor="black", tickWidth=2, tickSize=8.6,
    labelFont=FONT, labelFontSize=FS, labelColor="black",
    titleFont=FONT, titleFontSize=FS, titleFontWeight="normal", titleColor="black", grid=False
)

chart.save("out.html", embed_options={"renderer": "svg", "actions": False})
